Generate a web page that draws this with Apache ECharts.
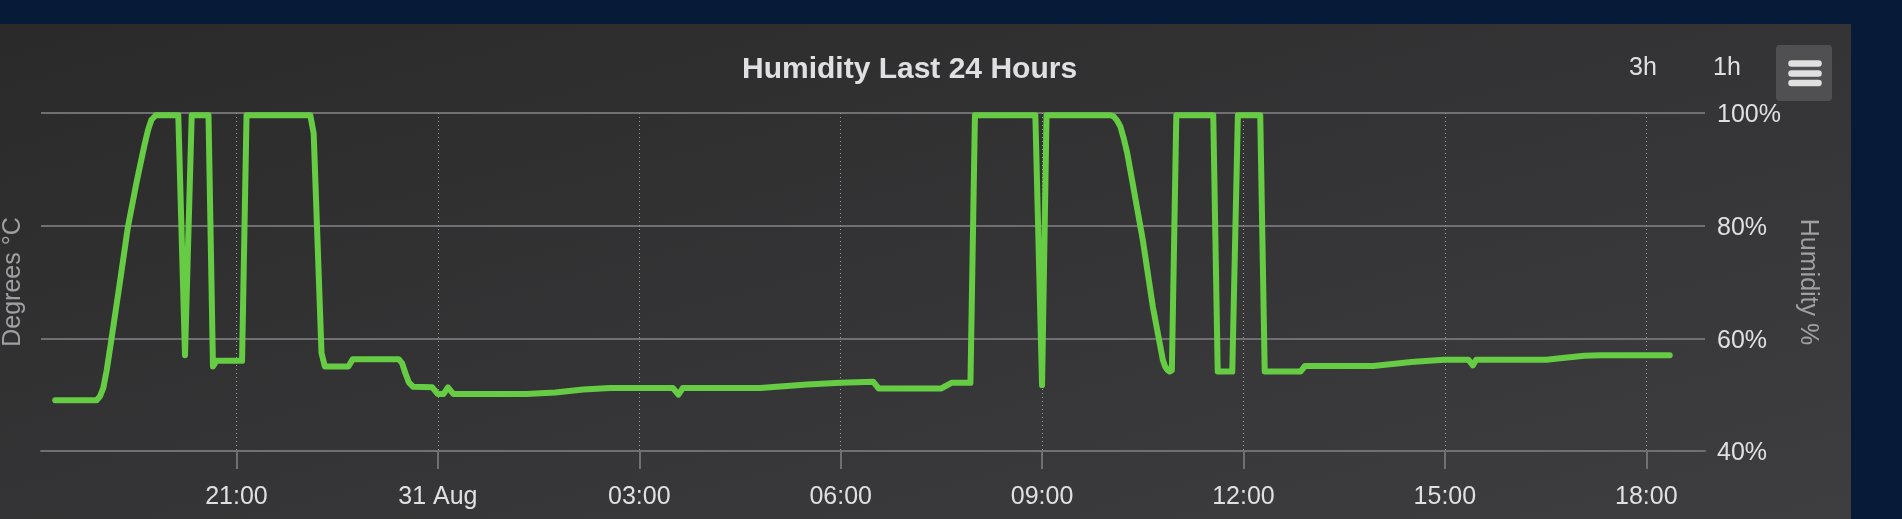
<!DOCTYPE html>
<html>
<head>
<meta charset="utf-8">
<script src="https://cdn.jsdelivr.net/npm/echarts@6/dist/echarts.min.js"></script>
<style>
html,body{margin:0;padding:0;width:1902px;height:519px;overflow:hidden;background:#071a38;}
#panel{position:absolute;left:0;top:24px;width:1851px;height:495px;background:linear-gradient(to bottom right,#2a2a2b,#3e3e40);}
#chart{position:absolute;left:0;top:0;width:1902px;height:519px;}
</style>
</head>
<body>
<div id="panel"></div>
<div id="chart"></div>
<script>
// ---- data (day-of-August + time, UTC) ----
const times = [
  '30 18:18','30 18:55','30 18:58','30 19:01','30 19:04','30 19:08','30 19:16','30 19:23','30 19:31','30 19:38',
  '30 19:41','30 19:44','30 19:48',
  '30 20:08','30 20:14','30 20:20','30 20:35','30 20:39','30 20:42','30 21:05','30 21:09',
  '30 22:06','30 22:09','30 22:16','30 22:19','30 22:40','30 22:44','30 23:25','30 23:28','30 23:31','30 23:34',
  '30 23:38','30 23:55',
  '31 00:00','31 00:05','31 00:09','31 00:14','31 01:19','31 01:45','31 02:10','31 02:34','31 03:30','31 03:35',
  '31 03:39','31 04:48','31 05:30','31 06:00','31 06:29','31 06:34','31 07:30','31 07:39','31 07:56','31 08:00',
  '31 08:54','31 09:00','31 09:04','31 10:01','31 10:04','31 10:07','31 10:10','31 10:13','31 10:16','31 10:21',
  '31 10:30','31 10:39','31 10:48','31 10:50','31 10:52','31 10:54','31 10:56','31 11:00','31 11:33','31 11:37',
  '31 11:50','31 11:55','31 12:15','31 12:19','31 12:51','31 12:55','31 13:56','31 14:30','31 14:59','31 15:21',
  '31 15:25','31 15:28','31 16:31','31 16:45','31 17:05','31 17:19','31 18:21'
];
const humidity = [
  49,49,49.7,51.2,54.3,59.5,70.2,79.8,88,94.5,
  97,98.8,99.6,
  99.6,57,99.6,99.6,55,56,56,99.6,
  99.6,96.4,57.4,55,55,56.3,56.3,55.6,53.8,52.2,
  51.4,51.3,
  50.1,50.1,51.3,50.1,50.1,50.4,50.9,51.2,51.2,50,
  51.2,51.2,51.8,52.1,52.3,51.1,51.1,52.1,52.1,99.6,
  99.6,51.7,99.6,99.6,99.4,98.7,97.6,95.5,93,87.5,
  77.5,65.6,56.1,55,54.4,54.1,54.3,99.6,99.6,54.1,
  54.1,99.6,99.6,54.1,54.1,55.1,55.1,55.8,56.2,56.2,
  55.2,56.2,56.2,56.5,56.9,57,57
];
const tickTimes = ['30 21:00','31 00:00','31 03:00','31 06:00','31 09:00','31 12:00','31 15:00','31 18:00'];
const tickLabels = ['21:00','31 Aug','03:00','06:00','09:00','12:00','15:00','18:00'];
const yTicks = [40, 60, 80, 100];

function toTs(s, sec) {
  const parts = s.split(' ');
  const hm = parts[1].split(':').map(Number);
  return Date.UTC(2024, 7, Number(parts[0]), hm[0], hm[1], sec || 0);
}
const seriesData = times.map((t, i) => [toTs(t), humidity[i]]);
const tickTs = tickTimes.map(t => toTs(t));
const labelMap = {};
tickTs.forEach((t, i) => { labelMap[t] = tickLabels[i]; });

const FONT = '"Liberation Sans", Arial, Helvetica, sans-serif';
const chart = echarts.init(document.getElementById('chart'), null, {renderer: 'canvas'});
chart.setOption({
  backgroundColor: 'transparent',
  animation: false,
  title: {
    text: 'Humidity Last 24 Hours',
    left: 742, top: 55, padding: 0,
    textStyle: {color: '#E0E0E3', fontSize: 30, fontWeight: 'bold', fontFamily: FONT}
  },
  grid: {left: 41, right: 197, top: 113, bottom: 68, containLabel: false, outerBoundsMode: 'none'},
  xAxis: {
    type: 'value',
    min: toTs('30 18:05', 18),
    max: toTs('31 18:52', 30),
    axisLine: {show: true, lineStyle: {color: '#707073', width: 2}},
    axisTick: {show: true, customValues: tickTs, length: 18, lineStyle: {color: '#707073', width: 2}},
    axisLabel: {
      customValues: tickTs,
      color: '#E0E0E3', fontSize: 25, fontFamily: FONT, margin: 34,
      formatter: v => labelMap[v] !== undefined ? labelMap[v] : ''
    },
    splitLine: {show: true, lineStyle: {color: '#9a9a9d', width: 1, type: [1, 3]}}
  },
  yAxis: [
    {
      type: 'value', position: 'right', min: yTicks[0], max: yTicks[yTicks.length - 1], interval: 20,
      axisLine: {show: false}, axisTick: {show: false},
      axisLabel: {
        formatter: v => '{p|' + v + '%}', margin: 12,
        rich: {p: {color: '#E0E0E3', fontSize: 25, fontFamily: FONT, padding: [5, 0, 0, 0]}}
      },
      splitLine: {show: true, lineStyle: {color: '#707073', width: 2}},
      name: 'Humidity %', nameLocation: 'middle', nameRotate: -90, nameGap: 90,
      nameTextStyle: {color: '#A0A0A3', fontSize: 25, fontFamily: FONT}
    },
    {
      type: 'value', position: 'left', min: 0, max: 1,
      axisLine: {show: false}, axisTick: {show: false}, axisLabel: {show: false}, splitLine: {show: false},
      name: 'Degrees °C', nameLocation: 'middle', nameRotate: 90, nameGap: 15,
      nameTextStyle: {color: '#A0A0A3', fontSize: 25, fontFamily: FONT}
    }
  ],
  series: [{
    type: 'line', yAxisIndex: 0, data: seriesData, showSymbol: false, smooth: false,
    lineStyle: {color: '#66cc44', width: 6, cap: 'round', join: 'round'},
    itemStyle: {color: '#66cc44'}
  }],
  graphic: [
    {type: 'text', x: 1643, y: 68, style: {text: '3h', fill: '#E0E0E3', fontSize: 25, fontFamily: FONT, align: 'center', verticalAlign: 'middle'}},
    {type: 'text', x: 1727, y: 68, style: {text: '1h', fill: '#E0E0E3', fontSize: 25, fontFamily: FONT, align: 'center', verticalAlign: 'middle'}},
    {type: 'rect', shape: {x: 1776, y: 45, width: 56, height: 56, r: 4}, style: {fill: '#505053'}},
    {type: 'line', shape: {x1: 1791.5, y1: 63.5, x2: 1818.5, y2: 63.5}, style: {stroke: '#E0E0E0', lineWidth: 6.5, lineCap: 'round'}},
    {type: 'line', shape: {x1: 1791.5, y1: 73.5, x2: 1818.5, y2: 73.5}, style: {stroke: '#E0E0E0', lineWidth: 6.5, lineCap: 'round'}},
    {type: 'line', shape: {x1: 1791.5, y1: 83, x2: 1818.5, y2: 83}, style: {stroke: '#E0E0E0', lineWidth: 6.5, lineCap: 'round'}}
  ]
});
</script>
</body>
</html>
